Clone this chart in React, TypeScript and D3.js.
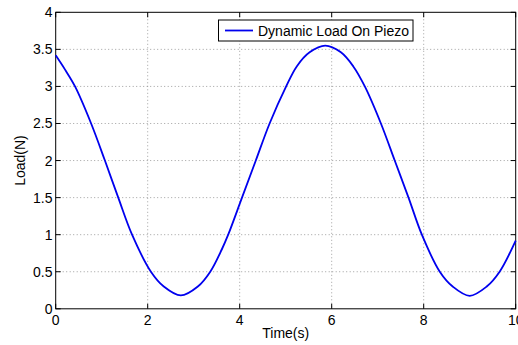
import React from "react";
import * as d3 from "d3";

const timeS = [0, 0.2, 0.42, 0.77, 1.07, 1.36, 1.66, 2.07, 2.35, 2.72, 3.09, 3.36, 3.61, 3.75, 4.05, 4.35, 4.65, 5.01, 5.24, 5.52, 5.86, 6.2, 6.47, 6.72, 7.07, 7.37, 7.67, 7.96, 8.35, 8.63, 9.0, 9.37, 9.65, 10];
const loadN = [3.42, 3.23, 3.0, 2.5, 2.0, 1.5, 1.0, 0.5, 0.3, 0.18, 0.3, 0.5, 0.8, 1.0, 1.5, 2.0, 2.5, 3.0, 3.27, 3.46, 3.55, 3.46, 3.27, 3.0, 2.5, 2.0, 1.5, 1.0, 0.5, 0.3, 0.175, 0.3, 0.5, 0.92];
const xTicks = [0, 2, 4, 6, 8, 10];
const yTicks = [0, 0.5, 1, 1.5, 2, 2.5, 3, 3.5, 4];
const legendLabel = "Dynamic Load On Piezo";
const xLabel = "Time(s)";
const yLabel = "Load(N)";

export default function App() {
  const W = 518, H = 345;
  const L = 55.7, R = 515.7, T = 12.3, B = 308.8;
  const x = d3.scaleLinear().domain([0, 10]).range([L, R]);
  const y = d3.scaleLinear().domain([0, 4]).range([B, T]);
  const pts = timeS.map((t, i) => [t, loadN[i]] as [number, number]);
  const line = d3.line<[number, number]>().x(d => x(d[0])).y(d => y(d[1])).curve(d3.curveCatmullRom.alpha(0.5));
  const font = "Arial, 'Liberation Sans', Helvetica, sans-serif";
  const tk = 5;
  return (
    <svg width={W} height={H} style={{ position: "absolute", left: 0, top: 0 }} fontFamily={font}>
      <rect x={0} y={0} width={W} height={H} fill="#fff" />
      {xTicks.slice(1, -1).map(t => (
        <line key={"gx" + t} x1={x(t)} x2={x(t)} y1={T} y2={B} stroke="#888" strokeWidth={0.8} strokeDasharray="1,2.5" />
      ))}
      {yTicks.slice(1, -1).map(t => (
        <line key={"gy" + t} x1={L} x2={R} y1={y(t)} y2={y(t)} stroke="#888" strokeWidth={0.8} strokeDasharray="1,2.5" />
      ))}
      <rect x={L} y={T} width={R - L} height={B - T} fill="none" stroke="#000" strokeWidth={1} />
      {xTicks.map(t => (
        <g key={"tx" + t}>
          <line x1={x(t)} x2={x(t)} y1={B} y2={B - tk} stroke="#000" />
          <line x1={x(t)} x2={x(t)} y1={T} y2={T + tk} stroke="#000" />
          <text x={x(t)} y={325} fontSize={14} textAnchor="middle">{t}</text>
        </g>
      ))}
      {yTicks.map(t => (
        <g key={"ty" + t}>
          <line x1={L} x2={L + tk} y1={y(t)} y2={y(t)} stroke="#000" />
          <line x1={R} x2={R - tk} y1={y(t)} y2={y(t)} stroke="#000" />
          <text x={52.5} y={y(t) + 5} fontSize={14} textAnchor="end">{t}</text>
        </g>
      ))}
      <path d={line(pts) || ""} fill="none" stroke="#0000ee" strokeWidth={1.8} />
      <text x={(L + R) / 2} y={338} fontSize={14} textAnchor="middle">{xLabel}</text>
      <text transform={`translate(25,${(T + B) / 2}) rotate(-90)`} fontSize={14} textAnchor="middle">{yLabel}</text>
      <rect x={218.5} y={20} width={194.5} height={21} fill="#fff" stroke="#000" strokeWidth={1} />
      <line x1={225} x2={253} y1={30.5} y2={30.5} stroke="#0000ee" strokeWidth={1.8} />
      <text x={258} y={36} fontSize={14}>{legendLabel}</text>
    </svg>
  );
}
